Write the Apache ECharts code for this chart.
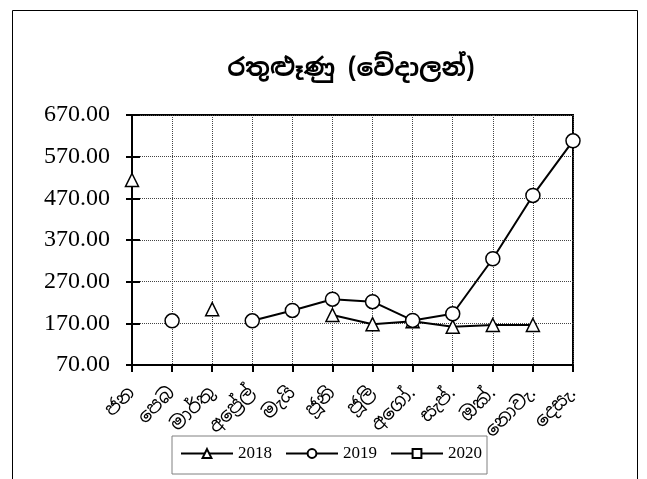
<!DOCTYPE html>
<html><head><meta charset="utf-8">
<script src="https://cdn.jsdelivr.net/npm/echarts@6/dist/echarts.min.js"></script>
<style>html,body{margin:0;padding:0;background:#fff}#c{width:647px;height:479px}</style>
</head><body><div id="c"></div>
<script>
const title = 'රතුළූණු (වේදාලන්)';
const months = ['ජන','පෙබ','මාර්තු','අප්‍රේල්','මැයි','ජූනි','ජූලි','අගෝ.','සැප්.','ඔක්.','නොවැ.','දෙසැ.'];
const s2018 = [514, null, 204, null, null, 190, 168, 175, 162, 166, 166, null];
const s2019 = [null, 176, null, 176, 201, 228, 222, 177, 193, 325, 477, 608];
const s2020 = [null, null, null, null, null, null, null, null, null, null, null, null];
const yMin = 70, yMax = 670, yStep = 100;

const serif = '"Liberation Serif","Times New Roman",serif';
const sinh = '"Noto Sans Sinhala","Noto Serif Sinhala","Iskoola Pota",serif';
const chart = echarts.init(document.getElementById('c'), null, {renderer:'canvas'});
function mk(name, data, sym, size){
  return {name, type:'line', data, symbol:sym, symbolSize:size, showAllSymbol:true,
    connectNulls:false,
    lineStyle:{color:'#000', width:2},
    itemStyle:{color:'#fff', borderColor:'#000', borderWidth:1.5},
    emphasis:{disabled:true}};
}
chart.setOption({
  animation:false,
  graphic:[{type:'rect', shape:{x:12.5, y:10.5, width:625, height:480}, style:{fill:'none', stroke:'#000', lineWidth:1}, silent:true}],
  title:{text:title, left:346, textAlign:'center', top:52, textStyle:{fontFamily:sinh, fontSize:25, fontWeight:'bold', color:'#000'}},
  grid:{left:132, right:74, top:115, bottom:114, show:true, borderColor:'#000', borderWidth:2},
  legend:{left:172, top:436, itemWidth:52, itemHeight:11, itemGap:13, padding:[9,5,12,8],
    borderColor:'#808080', borderWidth:1, backgroundColor:'#fff',
    textStyle:{fontFamily:serif, fontSize:17, color:'#000'},
    data:['2018','2019','2020']},
  xAxis:{type:'category', data:months, boundaryGap:false,
    axisLine:{lineStyle:{color:'#000', width:2}},
    axisTick:{show:true, alignWithLabel:true, length:7, lineStyle:{color:'#000', width:2}},
    axisLabel:{rotate:45, fontFamily:sinh, fontSize:19, color:'#000', margin:25, interval:0},
    splitLine:{show:true, lineStyle:{color:'#444', type:[1,1], width:1}}},
  yAxis:[{type:'value', min:yMin, max:yMax, interval:yStep,
    axisLine:{show:true, lineStyle:{color:'#000', width:2}},
    axisTick:{show:true, length:6, lineStyle:{color:'#000', width:2}},
    axisLabel:{formatter:v=>v.toFixed(2), fontFamily:serif, fontSize:24, color:'#000', margin:22},
    splitLine:{show:true, lineStyle:{color:'#444', type:[1,1], width:1}}},
   {type:'value', min:yMin, max:yMax, interval:yStep, position:'left', offset:0,
    axisLine:{show:false}, axisTick:{show:true, inside:true, length:8, lineStyle:{color:'#000', width:2}},
    axisLabel:{show:false}, splitLine:{show:false}}],
  series:[mk('2018', s2018, 'triangle', 13), mk('2019', s2019, 'circle', 14), mk('2020', s2020, 'rect', 11)]
});
</script></body></html>
